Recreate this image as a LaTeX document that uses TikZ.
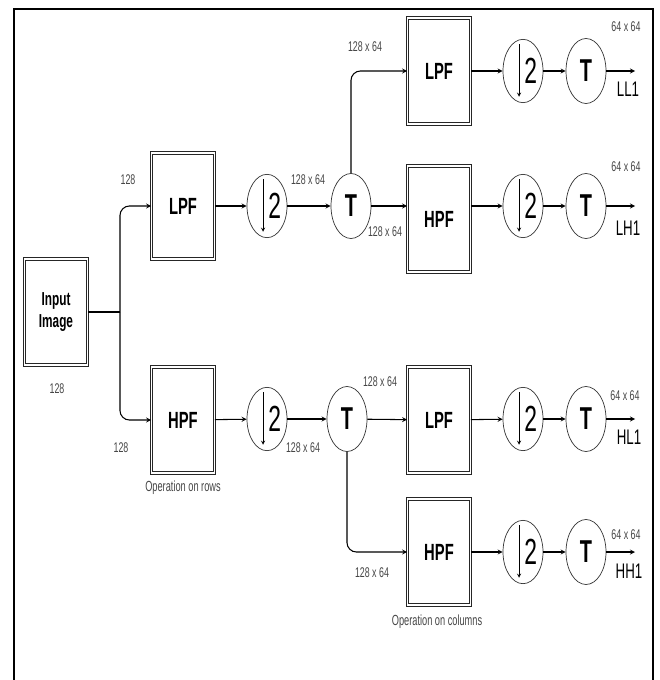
\documentclass[tikz,border=0pt]{standalone}
\usepackage{fontspec}
\setmainfont{Liberation Sans}[FakeStretch=0.63]
\usepackage{tikz}
\usetikzlibrary{shapes,arrows,positioning,calc}
\definecolor{labelgray}{RGB}{70,70,70}
\newcommand{\dsarrow}[1]{\draw[arr, line width=0.6pt] ([xshift=-3.4pt,yshift=23pt]#1.center) -- ([xshift=-3.4pt,yshift=-22pt]#1.center);}

\begin{document}
\begin{tikzpicture}[x=0.03cm, y=-0.03cm,
    box/.style={rectangle, draw=black!85, double, double distance=1.5pt, line width=0.6pt, minimum width=1.89cm, minimum height=3.18cm, inner sep=0pt, font=\fontsize{20}{22}\selectfont\bfseries},
    dsnode/.style={ellipse, draw=black!80, line width=0.6pt, minimum width=1.2cm, minimum height=1.9cm, inner sep=0pt, font=\fontsize{31}{33}\selectfont},
    tnode/.style={ellipse, draw=black!80, line width=0.6pt, minimum width=1.2cm, minimum height=1.95cm, inner sep=0pt, font=\fontsize{27}{29}\selectfont\bfseries},
    lbl/.style={inner sep=0pt, text=labelgray, font=\fontsize{12}{14}\selectfont},
    outlbl/.style={inner sep=0pt, font=\fontsize{18}{20}\selectfont},
    arr/.style={->, >=stealth, line width=0.9pt}
]
    \useasboundingbox (0,0) rectangle (659,680);
    \draw[line width=2.4pt] (14,680) -- (14,9) -- (653,9) -- (653,680);

    % rows stage
    \node[box, font=\fontsize{16}{19}\selectfont\bfseries, align=center] (input) at (56,312) {Input\\Image};
    \coordinate (split) at (120,312);
    \node[box] (lpfa) at (183,206) {LPF};
    \node[box] (hpfa) at (183,420) {HPF};
    \node[dsnode] (dsa) at (267,206) {\hspace*{13pt}2};
    \node[dsnode] (dsb) at (267,419) {\hspace*{13pt}2};
    \node[tnode] (ta) at (351,206) {T};
    \node[tnode] (tb) at (347,419) {T};

    % columns stage
    \node[box] (lpfb) at (439,71) {LPF};
    \node[box] (hpfb) at (439,219) {HPF};
    \node[box] (lpfc) at (439,420) {LPF};
    \node[box] (hpfd) at (439,552) {HPF};
    \node[dsnode] (dsll) at (523,71) {\hspace*{13pt}2};
    \node[dsnode] (dslh) at (523,206) {\hspace*{13pt}2};
    \node[dsnode] (dshl) at (523,419) {\hspace*{13pt}2};
    \node[dsnode] (dshh) at (523,552) {\hspace*{13pt}2};
    \node[tnode] (tll) at (586,71) {T};
    \node[tnode] (tlh) at (586,206) {T};
    \node[tnode] (thl) at (586,419) {T};
    \node[tnode] (thh) at (586,552) {T};
    \coordinate (ll) at (635,71);
    \coordinate (lh) at (635,206);
    \coordinate (hl) at (635,419);
    \coordinate (hh) at (635,552);

    % labels
    \node[lbl] (szin) at (57,389) {128};
    \node[lbl] (szla) at (128,180) {128};
    \node[lbl] (szha) at (121,448) {128};
    \node[lbl] (szdsa) at (308,180) {128 x 64};
    \node[lbl] (szdsb) at (303,448) {128 x 64};
    \node[lbl] (szup) at (365,47) {128 x 64};
    \node[lbl] (szta) at (385,232) {128 x 64};
    \node[lbl] (sztb) at (380,382) {128 x 64};
    \node[lbl] (szdown) at (372,573) {128 x 64};
    \node[lbl] (szll) at (626,27) {64 x 64};
    \node[lbl] (szlh) at (626,167) {64 x 64};
    \node[lbl] (szhl) at (625,396) {64 x 64};
    \node[lbl] (szhh) at (626,535) {64 x 64};
    \node[lbl, font=\fontsize{12.5}{14}\selectfont] (oprows) at (183,488) {Operation on rows};
    \node[lbl, font=\fontsize{12.5}{14}\selectfont] (opcols) at (437,622) {Operation on columns};
    \node[outlbl] (ll1) at (628,89) {LL1};
    \node[outlbl] (lh1) at (628,228) {LH1};
    \node[outlbl] (hl1) at (629,437) {HL1};
    \node[outlbl] (hh1) at (629,571) {HH1};

    % arrows
    \draw[line width=0.9pt] (input.east) -- (split);
    \draw[arr, rounded corners=8pt] (split) |- (lpfa.west);
    \draw[arr, rounded corners=8pt] (split) |- (hpfa.west);
    \draw[arr] (lpfa) -- (dsa);
    \draw[arr] (dsa) -- (ta);
    \draw[arr] (hpfa) -- (dsb);
    \draw[arr] (dsb) -- (tb);
    \draw[arr, rounded corners=8pt] (ta.north) |- (lpfb.west);
    \draw[arr] (ta.east) -- (ta.east -| hpfb.west);
    \draw[arr] (tb) -- (lpfc);
    \draw[arr, rounded corners=8pt] (tb.south) |- (hpfd.west);
    \draw[arr] (lpfb) -- (dsll);
    \draw[arr] (hpfb.east |- dslh) -- (dslh);
    \draw[arr] (lpfc) -- (dshl);
    \draw[arr] (hpfd) -- (dshh);
    \draw[arr] (dsll) -- (tll);
    \draw[arr] (dslh) -- (tlh);
    \draw[arr] (dshl) -- (thl);
    \draw[arr] (dshh) -- (thh);
    \draw[arr] (tll) -- (ll);
    \draw[arr] (tlh) -- (lh);
    \draw[arr] (thl) -- (hl);
    \draw[arr] (thh) -- (hh);
    \dsarrow{dsa}
    \dsarrow{dsb}
    \dsarrow{dsll}
    \dsarrow{dslh}
    \dsarrow{dshl}
    \dsarrow{dshh}
\end{tikzpicture}
\end{document}
